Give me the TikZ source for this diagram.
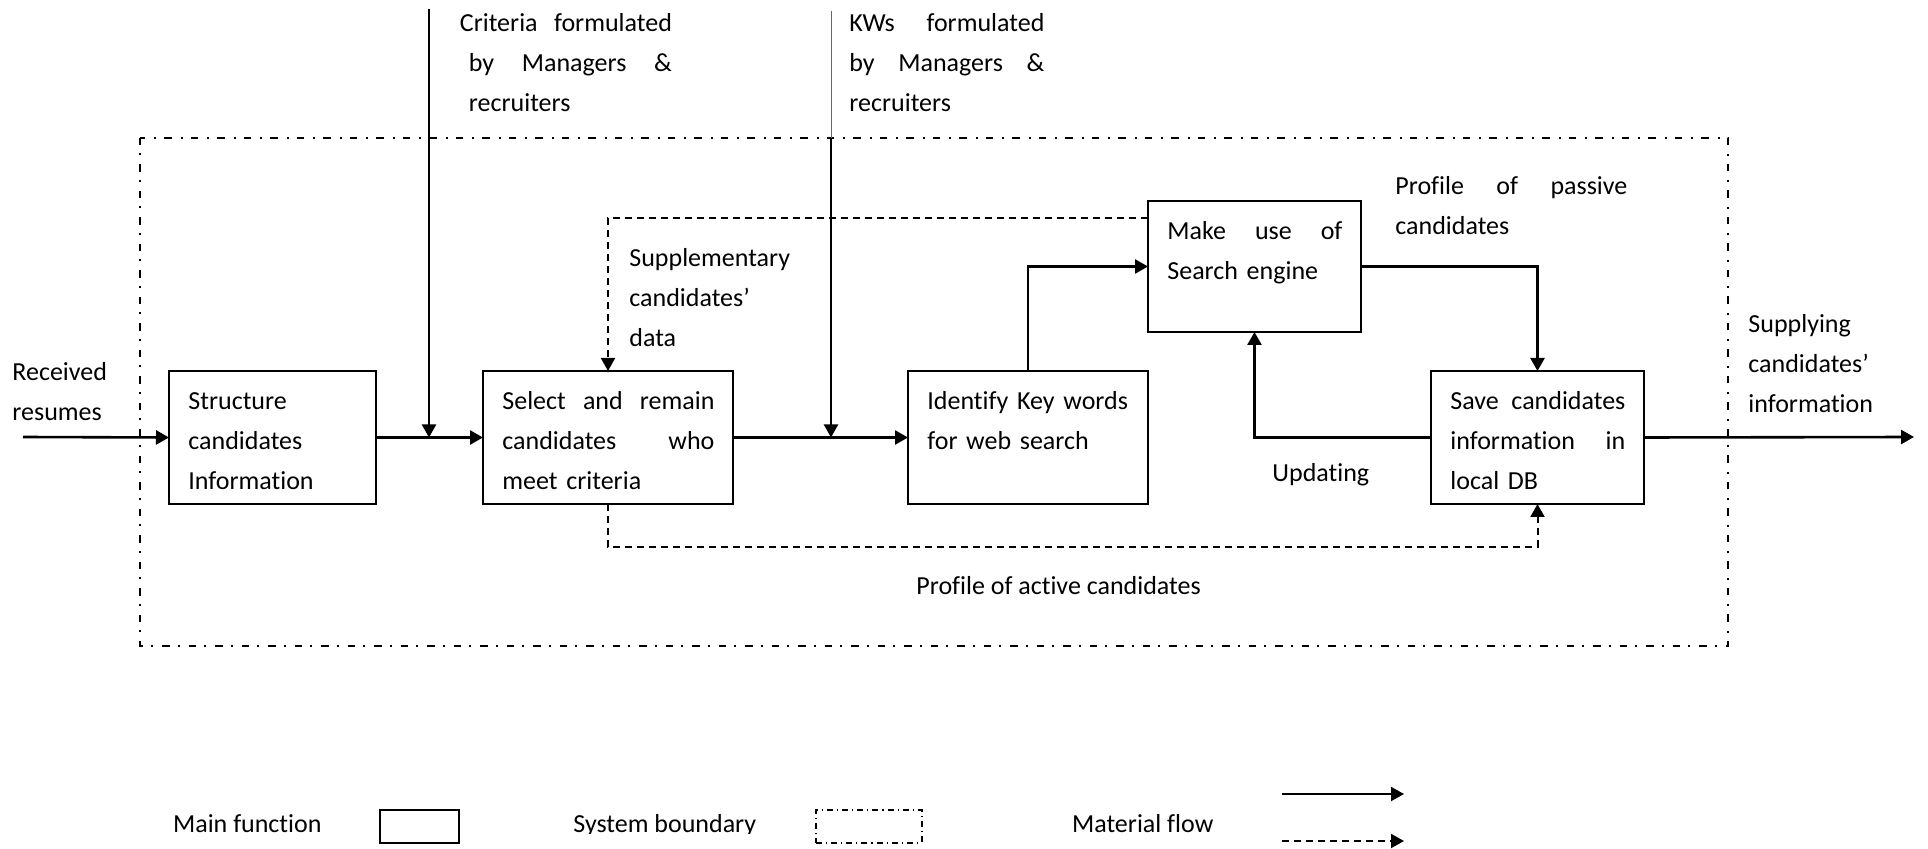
\documentclass[tikz,border=0pt]{standalone}
\usepackage{fontspec}
\setmainfont{Carlito}[Ligatures=NoCommon]
\usetikzlibrary{arrows.meta,calc}
\newcommand\diagfont{\fontsize{13}{20}\selectfont}
\tikzset{
  fnbox/.style={draw, line width=1.2pt, minimum height=66.5pt, anchor=north west, inner sep=0pt, outer sep=0pt},
  txt/.style={anchor=north west, inner sep=0pt, align=left, font=\diagfont},
  lbl/.style={anchor=base west, inner sep=0pt, font=\diagfont},
  tip/.style={-{Triangle[length=6.5pt,width=7pt]}},
  flow/.style={line width=1.3pt, tip},
  dflow/.style={line width=1pt, dash pattern=on 3.5pt off 2.5pt, tip},
  ctrl/.style={line width=1pt, tip},
  boundary/.style={line width=1pt, dash pattern=on 3.75pt off 4pt on 1pt off 4.5pt},
}
\begin{document}
\begin{tikzpicture}[x=0.5pt,y=-0.5pt]
\useasboundingbox (0,0) rectangle (1928,849);

% system boundary
\draw[boundary] (140,138) rectangle (1728,646);

% main functions
\node[fnbox, minimum width=103.5pt] (b1) at (169,371) {};
\node[fnbox, minimum width=125pt]   (b2) at (483,371) {};
\node[fnbox, minimum width=120pt]   (b3) at (908,371) {};
\node[fnbox, minimum width=106.5pt, minimum height=65.5pt] (b4) at (1148,201) {};
\node[fnbox, minimum width=106.5pt] (b5) at (1431,371) {};

% function texts
\node[txt, text width=84.5pt] (t1) at ($(b1.north west)+(19,10)$)
  {\strut Structure\\candidates\\Information};
\node[txt, text width=106pt] (t2) at ($(b2.north west)+(19,10)$)
  {\strut Select\hfill and\hfill remain\\candidates\hfill who\\meet criteria};
\node[txt, text width=101pt] (t3) at ($(b3.north west)+(19,10)$)
  {\strut Identify Key words\\for web search};
\node[txt, text width=87.5pt] (t4) at ($(b4.north west)+(19,10)$)
  {\strut Make\hfill use\hfill of\\Search engine};
\node[txt, text width=87.5pt] (t5) at ($(b5.north west)+(19,10)$)
  {\strut Save\hfill candidates\\information\hfill in\\local DB};

% flow labels
\node[txt, text width=60pt] (lrec) at (12,352) {\strut Received\\resumes};
\node[txt, text width=106pt] (lcrit) at (459.5,3)
  {\strut Criteria\hfill formulated\\\hspace*{4.5pt}by\hfill Managers\hfill\&\\\hspace*{4.5pt}recruiters};
\node[txt, text width=97.5pt] (lkw) at (849,3)
  {\strut KWs\hfill formulated\\by\hfill Managers\hfill\&\\recruiters};
\node[txt, text width=60pt] (lsup) at (629,238) {\strut Supplementary\\candidates’\\data};
\node[txt, text width=116pt] (lpas) at (1395,166) {\strut Profile\hfill of\hfill passive\\candidates};
\node[txt, text width=60pt] (lout) at (1748,304) {\strut Supplying\\candidates’\\information};
\node[lbl] (lupd) at (1272,482) {Updating};
\node[lbl] (lact) at (916,595) {Profile of active candidates};

% free ends
\coordinate (inL) at (23,437);
\coordinate (outR) at (1914,437);
\coordinate (critTop) at (429,9);
\coordinate (kwTop) at (831,11);
\coordinate (kwIn) at (831,138);

% material flow
\draw[flow] (inL) -- (b1.west);
\draw[flow] (b1.east) -- (b2.west);
\draw[flow] (b2.east) -- (b3.west);
\draw[flow] (b3.north) |- (b4.west);
\draw[flow] (b4.east) -| (b5.north);
\draw[flow] (b5.west) -| (b4.south);
\draw[flow] (b5.east) -- (outR);

% control inputs
\draw[ctrl] (critTop) -- (critTop |- b1.east);
\draw[line width=0.5pt, black!60] (kwTop) -- (kwIn);
\draw[ctrl] (kwIn) -- (kwIn |- b2.east);

% information flow
\draw[dflow] ($(b4.north west)+(0,17)$) -| (b2.north);
\draw[dflow] (b2.south) -- ++(0,43) -| (b5.south);

% legend
\node[lbl] (kmain) at (172.7,832.7) {Main function};
\node[draw, line width=1pt, minimum width=39.5pt, minimum height=16.5pt, anchor=north west, inner sep=0pt] (kbox) at (379,809) {};
\begin{scope}
  \clip (560,780) rectangle (800,833.5);
  \node[lbl] (ksys) at (573,832.7) {System boundary};
\end{scope}
\node[draw, line width=0.75pt, dash pattern=on 3pt off 2pt on 0.6pt off 2pt, minimum width=53pt, minimum height=16.5pt, anchor=north west, inner sep=0pt] (kbnd) at (815,809) {};
\node[lbl] (kmat) at (1071.7,832.7) {Material flow};
\coordinate (ka1) at (1282,794);
\coordinate (ka2) at (1404,794);
\coordinate (kd1) at (1282,841);
\coordinate (kd2) at (1404,841);
\draw[flow, line width=1pt] (ka1) -- (ka2);
\draw[dflow] (kd1) -- (kd2);
\end{tikzpicture}
\end{document}
